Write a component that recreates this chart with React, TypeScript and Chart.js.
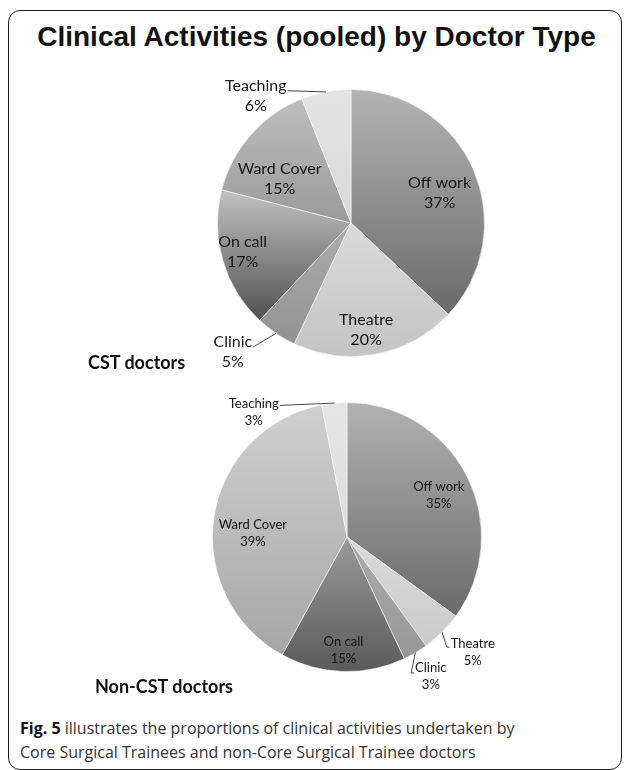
import React, { useEffect, useRef } from "react";
import { Chart, registerables } from "chart.js";

Chart.register(...registerables);

// ---------- data ----------
const categories = ["Off work", "Theatre", "Clinic", "On call", "Ward Cover", "Teaching"];
const cstValues = [37, 20, 5, 17, 15, 6];
const nonCstValues = [35, 5, 3, 15, 39, 3];
const mainTitle = "Clinical Activities (pooled) by Doctor Type";
const cstGroupLabel = "CST doctors";
const nonCstGroupLabel = "Non-CST doctors";
const captionLead = "Fig. 5";
const captionLine1 = " illustrates the proportions of clinical activities undertaken by";
const captionLine2 = "Core Surgical Trainees and non-Core Surgical Trainee doctors";

// ---------- styles ----------
const cstShades: string[][] = [
  ["#b4b4b4", "#6a6a6a"],
  ["#dadada", "#c4c4c4"],
  ["#adadad", "#929292"],
  ["#c2c2c2", "#505050"],
  ["#bebebe", "#9a9a9a"],
  ["#e4e4e4", "#d8d8d8"],
];
const nonCstShades: string[][] = [
  ["#b2b2b2", "#6a6a6a"],
  ["#dadada", "#cacaca"],
  ["#acacac", "#979797"],
  ["#9a9a9a", "#5a5a5a"],
  ["#d0d0d0", "#a6a6a6"],
  ["#e6e6e6", "#dcdcdc"],
];
// rf: radius factor, da: angle shift (deg), leader: leader line, lo: leader y-offset
const cstPlacement = [
  { rf: 0.7, da: 4.8 },
  { rf: 0.81, da: 2.8 },
  { rf: 1.31, da: 8.3, leader: true, lo: 5 },
  { rf: 0.84, da: 1.2 },
  { rf: 0.63, da: -9.4 },
  { rf: 1.19, da: -26, leader: true, lo: 5 },
];
const nonCstPlacement = [
  { rf: 0.75, da: 2.5 },
  { rf: 1.27, da: -2.4, leader: true, lo: 3 },
  { rf: 1.21, da: -0.4, leader: true, lo: 5 },
  { rf: 0.84, da: 0 },
  { rf: 0.7, da: -6.6 },
  { rf: 1.16, da: -31.3, leader: true, lo: 2 },
];

function gradientFill(shades: string[][]) {
  return (c: any) => {
    const chart = c.chart;
    const area = chart.chartArea;
    const i = c.dataIndex;
    if (i === undefined) return shades[0][0];
    const [c0, c1] = shades[i];
    if (!area) return c0;
    const values = c.dataset.data as number[];
    const total = values.reduce((a, b) => a + b, 0);
    let cum = 0;
    for (let k = 0; k < i; k++) cum += values[k];
    const a0 = -Math.PI / 2 + (2 * Math.PI * cum) / total;
    const a1 = a0 + (2 * Math.PI * values[i]) / total;
    const cx = (area.left + area.right) / 2;
    const cy = (area.top + area.bottom) / 2;
    const r = Math.min(area.width, area.height) / 2;
    const ys = [cy, cy + r * Math.sin(a0), cy + r * Math.sin(a1)];
    for (const ang of [-Math.PI / 2, Math.PI / 2, (3 * Math.PI) / 2]) {
      if (ang >= a0 - 1e-9 && ang <= a1 + 1e-9) ys.push(cy + r * Math.sin(ang));
    }
    const y0 = Math.min(...ys);
    const y1 = Math.max(...ys);
    const g = chart.ctx.createLinearGradient(0, y0, 0, Math.max(y1, y0 + 1));
    g.addColorStop(0, c0);
    g.addColorStop(1, c1);
    return g;
  };
}

const sliceLabels = {
  id: "sliceLabels",
  afterDatasetsDraw(chart: any, _args: any, opts: any) {
    const { placements, fontSize, lineGap } = opts;
    const meta = chart.getDatasetMeta(0);
    const ctx = chart.ctx;
    const labels = chart.data.labels as string[];
    const values = chart.data.datasets[0].data as number[];
    const total = values.reduce((a, b) => a + b, 0);
    meta.data.forEach((arc: any, i: number) => {
      const { x, y, startAngle, endAngle, outerRadius } = arc.getProps(
        ["x", "y", "startAngle", "endAngle", "outerRadius"],
        true
      );
      const p = placements[i];
      const midA = (startAngle + endAngle) / 2;
      const a = midA + (p.da * Math.PI) / 180;
      const lx = x + Math.cos(a) * outerRadius * p.rf;
      const ly = y + Math.sin(a) * outerRadius * p.rf;
      const name = labels[i];
      const pct = Math.round((values[i] / total) * 100) + "%";
      ctx.save();
      ctx.font = `${fontSize}px Lato`;
      ctx.fillStyle = "#141414";
      ctx.textAlign = "center";
      ctx.textBaseline = "middle";
      const nameY = ly - lineGap / 2;
      const pctY = ly + lineGap / 2;
      ctx.fillText(name, lx, nameY);
      ctx.fillText(pct, lx, pctY);
      if (p.leader) {
        const w = ctx.measureText(name).width;
        const ex = x + Math.cos(midA) * outerRadius;
        const ey = y + Math.sin(midA) * outerRadius;
        ctx.strokeStyle = "#4a4a4a";
        ctx.lineWidth = 1;
        ctx.beginPath();
        if (lx < x) {
          ctx.moveTo(lx + w / 2 + 1, nameY + p.lo);
          ctx.lineTo(ex, ey);
        } else {
          ctx.moveTo(ex, ey);
          ctx.lineTo(lx - w / 2 - 4, nameY + p.lo);
          ctx.lineTo(lx - w / 2 - 1, nameY + p.lo);
        }
        ctx.stroke();
      }
      ctx.restore();
    });
  },
};

function PieChart(props: {
  values: number[];
  shades: string[][];
  placements: any[];
  padding: any;
  width: number;
  height: number;
  fontSize: number;
  lineGap: number;
  style: React.CSSProperties;
}) {
  const ref = useRef<HTMLCanvasElement | null>(null);
  useEffect(() => {
    if (!ref.current) return;
    const chart = new Chart(ref.current, {
      type: "pie",
      data: {
        labels: categories,
        datasets: [
          {
            data: props.values,
            backgroundColor: gradientFill(props.shades) as any,
            borderColor: "rgba(255,255,255,0.55)",
            borderWidth: 1,
          },
        ],
      },
      options: {
        responsive: false,
        maintainAspectRatio: false,
        animation: false,
        events: [],
        layout: { padding: props.padding },
        plugins: {
          legend: { display: false },
          tooltip: { enabled: false },
          sliceLabels: {
            placements: props.placements,
            fontSize: props.fontSize,
            lineGap: props.lineGap,
          },
        } as any,
      },
      plugins: [sliceLabels as any],
    });
    return () => chart.destroy();
  }, []);
  return (
    <canvas
      ref={ref}
      width={props.width}
      height={props.height}
      style={{ position: "absolute", width: props.width, height: props.height, ...props.style }}
    />
  );
}

export default function App() {
  return (
    <div
      style={{
        position: "absolute",
        left: 0,
        top: 0,
        width: 629,
        height: 770,
        background: "#ffffff",
        overflow: "hidden",
      }}
    >
      <div
        style={{
          position: "absolute",
          left: 8,
          top: 10,
          width: 614,
          height: 760,
          border: "1.5px solid #1e1e1e",
          borderRadius: 12,
          boxSizing: "border-box",
        }}
      />
      <div
        style={{
          position: "absolute",
          left: 0,
          top: 23,
          width: 633,
          textAlign: "center",
          fontFamily: "'Liberation Sans', Arial, sans-serif",
          fontWeight: 700,
          fontSize: 28,
          lineHeight: "28px",
          color: "#111",
          whiteSpace: "nowrap",
        }}
      >
        {mainTitle}
      </div>
      <PieChart
        values={cstValues}
        shades={cstShades}
        placements={cstPlacement}
        padding={{ left: 117, right: 115, top: 29, bottom: 33 }}
        width={500}
        height={330}
        fontSize={16}
        lineGap={20}
        style={{ left: 100, top: 60 }}
      />
      <PieChart
        values={nonCstValues}
        shades={nonCstShades}
        placements={nonCstPlacement}
        padding={{ left: 112, right: 118, top: 12, bottom: 28 }}
        width={500}
        height={310}
        fontSize={13}
        lineGap={17}
        style={{ left: 100, top: 390 }}
      />
      <div
        style={{
          position: "absolute",
          left: 88,
          top: 351,
          fontFamily: "Lato, sans-serif",
          fontWeight: 700,
          fontSize: 18,
          lineHeight: "22px",
          color: "#111",
          whiteSpace: "nowrap",
        }}
      >
        {cstGroupLabel}
      </div>
      <div
        style={{
          position: "absolute",
          left: 95,
          top: 675,
          fontFamily: "Lato, sans-serif",
          fontWeight: 700,
          fontSize: 18,
          lineHeight: "22px",
          color: "#111",
          whiteSpace: "nowrap",
        }}
      >
        {nonCstGroupLabel}
      </div>
      <div
        style={{
          position: "absolute",
          left: 20,
          top: 716,
          fontFamily: "'Open Sans', sans-serif",
          fontSize: 16,
          lineHeight: "24px",
          color: "#333",
          whiteSpace: "nowrap",
        }}
      >
        <div>
          <b style={{ color: "#111" }}>{captionLead}</b>
          {captionLine1}
        </div>
        <div>{captionLine2}</div>
      </div>
    </div>
  );
}
